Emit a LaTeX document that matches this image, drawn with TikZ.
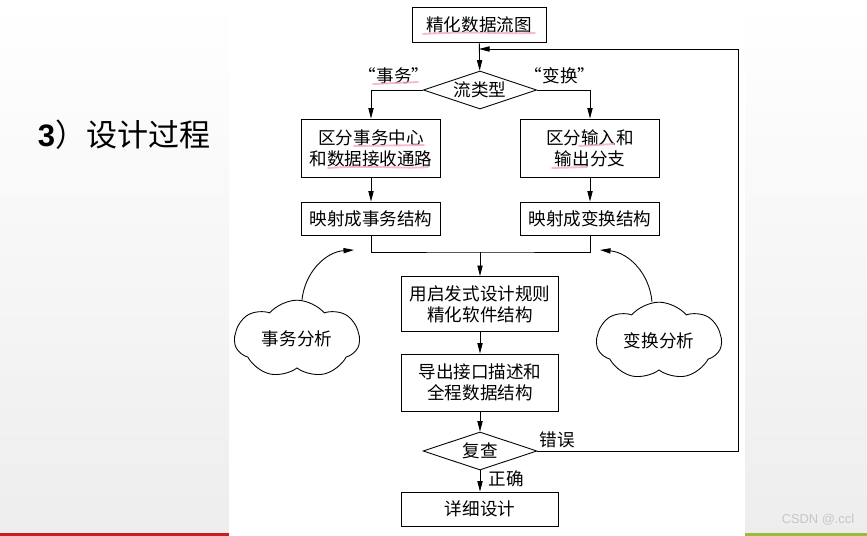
\documentclass[tikz,border=0pt]{standalone}
\usepackage{fontspec}
\setmainfont{Noto Sans CJK SC}
\newfontfamily\latinsans{Liberation Sans}
\usepackage{tikz}
\usetikzlibrary{positioning,arrows.meta,shapes.geometric,shapes.symbols}
\definecolor{markpink}{HTML}{F2A7C8}
\definecolor{slidered}{HTML}{C81E1E}
\definecolor{slidegreen}{HTML}{9BBB3A}

\begin{document}
\begin{tikzpicture}[x=0.03cm, y=-0.03cm,
  font=\fontsize{15pt}{18pt}\selectfont,
  box/.style={draw, line width=0.75pt, minimum width=4.17cm, align=center, inner sep=2pt},
  midbox/.style={box, minimum width=4.71cm},
  decide/.style={draw, line width=0.75pt, diamond, aspect=3, inner sep=1pt, minimum width=3.4cm, minimum height=1.14cm},
  blob/.style={draw, line width=0.75pt, cloud, cloud puffs=7, cloud puff arc=100, aspect=1.8, minimum width=3.75cm, minimum height=2.04cm},
  flow/.style={line width=0.75pt, -{Triangle[length=9pt,width=4.5pt]}},
  hl/.style={markpink, line width=1.6pt, line cap=round, opacity=0.8}]
\useasboundingbox (0,0) rectangle (867,536);
% slide background
\shade[top color=white, bottom color=gray!14] (0,0) rectangle (229,536);
\shade[top color=white, bottom color=gray!14] (745,0) rectangle (867,536);
\fill[slidered] (0,533) rectangle (229,536);
\fill[slidegreen] (745,533) rectangle (867,536);
\node[font=\fontsize{26.5pt}{30pt}\selectfont] (title) at (124,135) {{\latinsans\bfseries 3}）设计过程};
\node[gray!45, font=\latinsans\fontsize{11pt}{13pt}\selectfont] (mark) at (818,520) {CSDN @.ccl};

% flow chart
\node[box, minimum width=4.02cm, minimum height=1.05cm] (top) at (479,24.5) {精化数据流图};
\node[decide] (d1) at (480,90) {流类型};
\node[box, minimum height=1.74cm] (l1) at (371,148) {区分事务中心\\和数据接收通路};
\node[box, minimum height=1.74cm] (r1) at (590,148) {区分输入和\\输出分支};
\node[box, minimum height=0.99cm] (l2) at (371,218.5) {映射成事务结构};
\node[box, minimum height=0.99cm] (r2) at (590,218.5) {映射成变换结构};
\node[midbox, minimum height=1.65cm] (b3) at (480,304) {用启发式设计规则\\精化软件结构};
\node[midbox, minimum height=1.71cm] (b4) at (480,382.5) {导出接口描述和\\全程数据结构};
\node[decide, minimum width=3.42cm] (d2) at (480,451) {复查};
\node[midbox, minimum height=1.02cm] (b5) at (480,509) {详细设计};
\node[blob] (lc) at (297,339) {事务分析};
\node[blob] (rc) at (659,341) {变换分析};
\node (tlab) at (394,76) {“事务”};
\node (clab) at (560,76) {“变换”};
\node (err) at (557,440) {错误};
\node (ok) at (506,479) {正确};
\coordinate (mg) at (480,252);
\coordinate (fb) at (738,49);
\coordinate (la) at (354,250);
\coordinate (ra) at (600,250);

\draw[flow] (top) -- (d1);
\draw[flow] (d1.west) -| (l1.north);
\draw[flow] (d1.east) -| (r1.north);
\draw[flow] (l1) -- (l2);
\draw[flow] (r1) -- (r2);
\draw[line width=0.75pt] (l2.south) |- (mg) -| (r2.south);
\draw[flow] (mg) -- (b3);
\draw[flow] (b3) -- (b4);
\draw[flow] (b4) -- (d2);
\draw[flow] (d2) -- (b5);
\draw[flow] (d2.east) -| (fb) -- (fb -| top.south);
\draw[flow] (lc.north) ++(5,0) to[bend left=40] (la);
\draw[flow] (rc.north) ++(-7,0) to[bend right=40] (ra);

% pink marks
\draw[hl] (423,34) .. controls (470,31) and (500,34) .. (535,33);
\draw[hl] (373,84) -- (418,82);
\draw[hl] (354,146) -- (424,145);
\draw[hl] (328,168) .. controls (370,165) and (405,169) .. (428,167);
\draw[hl] (579,146) -- (614,144);
\draw[hl] (552,168) -- (587,167);
\end{tikzpicture}
\end{document}
